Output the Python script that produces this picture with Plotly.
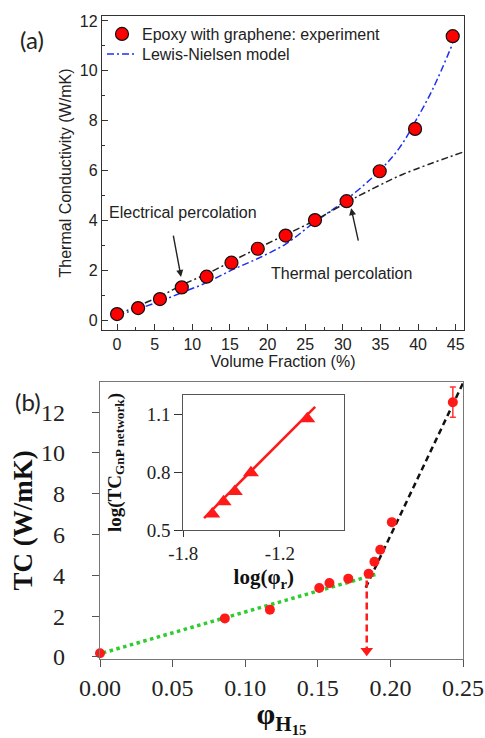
import plotly.graph_objects as go

# ---------------- data: panel (a) ----------------
vol_frac = [0.0, 2.8, 5.7, 8.6, 11.9, 15.2, 18.7, 22.4, 26.3, 30.5, 34.9, 39.6, 44.6]
tc_exp = [0.24, 0.48, 0.84, 1.31, 1.74, 2.30, 2.86, 3.39, 4.01, 4.77, 5.97, 7.67, 11.39]

ln_x = [0.0, 2.8, 5.7, 8.6, 11.9, 15.2, 18.7, 22.4, 26.3, 30.5, 34.9, 37.5, 39.6, 42.0, 44.6]
ln_y = [0.20, 0.45, 0.75, 1.10, 1.50, 2.00, 2.47, 3.05, 3.94, 4.84, 6.00, 6.90, 7.95, 9.30, 11.10]

perc_x = [0.0, 5.7, 8.6, 11.9, 15.2, 18.7, 22.4, 26.3, 30.5, 33.2, 38.0, 46.1]
perc_y = [0.22, 0.95, 1.40, 1.85, 2.35, 2.88, 3.42, 4.00, 4.72, 5.15, 5.85, 6.75]

# ---------------- data: panel (b) ----------------
phi_h15 = [0.0, 0.086, 0.117, 0.151, 0.158, 0.171, 0.185, 0.189, 0.193, 0.201, 0.243]
tc_b = [0.18, 1.89, 2.32, 3.38, 3.62, 3.84, 4.08, 4.67, 5.26, 6.61, 12.49]
tc_b_err = [0, 0, 0, 0, 0, 0, 0, 0, 0, 0, 0.74]

green_x = [0.002, 0.190]
green_y = [0.20, 4.05]
black_x = [0.183, 0.2505]
black_y = [3.40, 13.50]
arrow_x = [0.1837, 0.1837]
arrow_y = [3.75, 0.35]
arrowhead_x = [0.1837]
arrowhead_y = [0.30]

# ---------------- data: inset ----------------
log_phi = [-1.62, -1.55, -1.48, -1.38, -1.03]
log_tc = [0.583, 0.647, 0.699, 0.797, 1.077]
fit_x = [-1.671, -0.981]
fit_y = [0.562, 1.138]

W, H = 485, 738
def fx(p):
    return p / W
def fy(p):
    return 1 - p / H

SANS = "Arial, Liberation Sans, sans-serif"
SERIF = "Times New Roman, Liberation Serif, serif"

fig = go.Figure()

# panel (a)
fig.add_trace(go.Scatter(x=ln_x, y=ln_y, mode="lines", name="Lewis-Nielsen model",
                         line=dict(color="#1e2ff0", width=1.5, dash="7px,3px,2px,3px", shape="spline"),
                         xaxis="x", yaxis="y", legend="legend2"))
fig.add_trace(go.Scatter(x=perc_x, y=perc_y, mode="lines", showlegend=False,
                         line=dict(color="#222222", width=1.5, dash="7px,3px,2px,3px", shape="spline"),
                         xaxis="x", yaxis="y"))
fig.add_trace(go.Scatter(x=vol_frac, y=tc_exp, mode="markers", name="Epoxy with graphene: experiment",
                         marker=dict(size=13, color="#ff0000", line=dict(color="#111111", width=1.2)),
                         xaxis="x", yaxis="y", legend="legend"))

# panel (b)
fig.add_trace(go.Scatter(x=green_x, y=green_y, mode="lines", showlegend=False,
                         line=dict(color="#2ecc2e", width=3.5, dash="dot"),
                         xaxis="x2", yaxis="y2"))
fig.add_trace(go.Scatter(x=black_x, y=black_y, mode="lines", showlegend=False,
                         line=dict(color="#111111", width=2.5, dash="6px,4px"),
                         xaxis="x2", yaxis="y2"))
fig.add_trace(go.Scatter(x=arrow_x, y=arrow_y, mode="lines", showlegend=False,
                         line=dict(color="#ff1a1a", width=2.5, dash="7px,4px"),
                         xaxis="x2", yaxis="y2"))
fig.add_trace(go.Scatter(x=arrowhead_x, y=arrowhead_y, mode="markers", showlegend=False,
                         marker=dict(symbol="triangle-down", size=11, color="#ff1a1a"),
                         xaxis="x2", yaxis="y2", cliponaxis=False))
fig.add_trace(go.Scatter(x=phi_h15, y=tc_b, mode="markers", showlegend=False,
                         marker=dict(size=10, color="#ff1a1a"),
                         error_y=dict(type="data", array=tc_b_err, color="#ff3333", thickness=1.5, width=3),
                         xaxis="x2", yaxis="y2", cliponaxis=False))

# inset
fig.add_trace(go.Scatter(x=fit_x, y=fit_y, mode="lines", showlegend=False,
                         line=dict(color="#ff1a1a", width=2.5),
                         xaxis="x3", yaxis="y3"))
fig.add_trace(go.Scatter(x=log_phi, y=log_tc, mode="markers", showlegend=False,
                         marker=dict(symbol="triangle-up", size=14, color="#ff1a1a"),
                         xaxis="x3", yaxis="y3"))

frame_a = dict(showline=True, mirror=True, linecolor="#333333", linewidth=1.3,
               showgrid=False, zeroline=False, automargin=False,
               ticks="inside", ticklen=6, tickcolor="#333333",
               tickfont=dict(family=SANS, size=16, color="#222222"))

legend_style = dict(xanchor="left", yanchor="top", bgcolor="rgba(0,0,0,0)",
                    font=dict(family=SANS, size=16, color="#222222"))

fig.update_layout(
    template="none",
    width=W, height=H, autosize=False,
    margin=dict(l=0, r=0, t=0, b=0),
    paper_bgcolor="white", plot_bgcolor="white",
    showlegend=True,
    legend=dict(legend_style, x=fx(102), y=fy(17)),
    legend2=dict(legend_style, x=fx(102), y=fy(37)),
    xaxis=dict(frame_a, domain=[fx(102), fx(464)], range=[-2, 46.1], anchor="y",
               tick0=0, dtick=5,
               minor=dict(ticks="inside", ticklen=3, dtick=2.5, tick0=0, tickcolor="#333333"),
               title=dict(text="Volume Fraction (%)", standoff=1,
                          font=dict(family=SANS, size=16, color="#222222"))),
    yaxis=dict(frame_a, domain=[fy(330), fy(16)], range=[-0.4, 12.2], anchor="x",
               tick0=0, dtick=2,
               minor=dict(ticks="inside", ticklen=3, dtick=1, tick0=0, tickcolor="#333333"),
               title=dict(text="Thermal Conductivity (W/mK)", standoff=4,
                          font=dict(family=SANS, size=16, color="#222222"))),
    xaxis2=dict(domain=[fx(100), fx(463)], range=[0, 0.25], anchor="y2",
                showline=True, mirror=True, linecolor="#777777", linewidth=1.3,
                showgrid=False, zeroline=False, automargin=False,
                ticks="outside", ticklen=7, tickcolor="#555555",
                tick0=0, dtick=0.05, tickformat=".2f",
                tickfont=dict(family=SERIF, size=24, color="#222222"),
                title=dict(text="<b>φ<sub>H<sub>15</sub></sub></b>", standoff=4,
                           font=dict(family=SERIF, size=30, color="#111111"))),
    yaxis2=dict(domain=[fy(659), fy(382)], range=[-0.1, 13.48], anchor="x2",
                showline=True, mirror=True, linecolor="#777777", linewidth=1.3,
                showgrid=False, zeroline=False, automargin=False,
                ticks="outside", ticklen=7, tickcolor="#555555",
                tick0=0, dtick=2, ticklabelstandoff=22,
                tickfont=dict(family=SERIF, size=24, color="#222222"),
                title=dict(text="<b>TC (W/mK)</b>", standoff=0,
                           font=dict(family=SERIF, size=27, color="#111111"))),
    xaxis3=dict(domain=[fx(183.3), fx(344.3)], range=[-1.8, -0.8], anchor="y3",
                showline=True, mirror=True, linecolor="#555555", linewidth=1.2,
                showgrid=False, zeroline=False, automargin=False,
                ticks="outside", ticklen=6, tickcolor="#333333",
                tickvals=[-1.8, -1.2], ticktext=["-1.8", "-1.2"],
                tickfont=dict(family=SERIF, size=19, color="#222222"),
                title=dict(text="<b>log(φ<sub>r</sub>)</b>", standoff=6,
                           font=dict(family=SERIF, size=21, color="#111111"))),
    yaxis3=dict(domain=[fy(530), fy(395)], range=[0.5, 1.2], anchor="x3",
                showline=True, mirror=True, linecolor="#555555", linewidth=1.2,
                showgrid=False, zeroline=False, automargin=False,
                ticks="outside", ticklen=8, tickcolor="#333333",
                tickvals=[0.5, 0.8, 1.1], ticktext=["0.5", "0.8", "1.1"],
                tickfont=dict(family=SERIF, size=19, color="#222222"),
                title=dict(text="<b>log(TC<sub>GnP network</sub>)</b>", standoff=20,
                           font=dict(family=SERIF, size=19, color="#111111"))),
)

ann = [
    dict(text="(a)", x=fx(32), y=fy(39), xref="paper", yref="paper", showarrow=False,
         xanchor="center", yanchor="middle",
         font=dict(family="Lato, Open Sans, sans-serif", size=24, color="#222222")),
    dict(text="(b)", x=fx(28), y=fy(401), xref="paper", yref="paper", showarrow=False,
         xanchor="center", yanchor="middle",
         font=dict(family="Lato, Open Sans, sans-serif", size=24, color="#222222")),
    dict(text="Electrical percolation", x=-1.4, y=4.33, xref="x", yref="y",
         xanchor="left", yanchor="middle", showarrow=False,
         font=dict(family=SANS, size=16, color="#222222")),
    dict(text="Thermal percolation", x=20.2, y=1.85, xref="x", yref="y",
         xanchor="left", yanchor="middle", showarrow=False,
         font=dict(family=SANS, size=16, color="#222222")),
    dict(text="", x=8.5, y=1.73, ax=7.44, ay=3.45, xref="x", yref="y", axref="x", ayref="y",
         showarrow=True, arrowhead=2, arrowsize=1, arrowwidth=1.4, arrowcolor="#222222"),
    dict(text="", x=31.1, y=4.49, ax=32.1, ay=3.13, xref="x", yref="y", axref="x", ayref="y",
         showarrow=True, arrowhead=2, arrowsize=1, arrowwidth=1.4, arrowcolor="#222222"),
]
fig.update_layout(annotations=ann)

fig.write_html("out.html", config={"displayModeBar": False},
               post_script="document.body.style.margin='0px';")
